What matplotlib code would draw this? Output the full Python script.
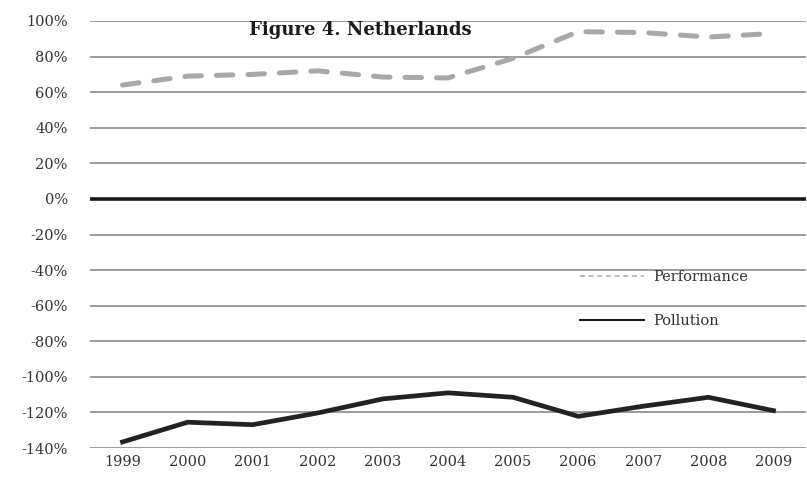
import matplotlib
matplotlib.use("Agg")
import matplotlib.pyplot as plt
from matplotlib.lines import Line2D
from matplotlib.ticker import FuncFormatter

years = ["1999", "2000", "2001", "2002", "2003", "2004", "2005", "2006", "2007", "2008", "2009"]
performance = [0.64, 0.69, 0.70, 0.72, 0.685, 0.68, 0.79, 0.94, 0.935, 0.91, 0.93]
pollution = [-1.366, -1.255, -1.269, -1.203, -1.124, -1.090, -1.115, -1.222, -1.165, -1.115, -1.190]
y_ticks = [1.0, 0.8, 0.6, 0.4, 0.2, 0.0, -0.2, -0.4, -0.6, -0.8, -1.0, -1.2, -1.4]

serif = ["DejaVu Serif"]
label_color = "#333333"

fig = plt.figure(figsize=(8.07, 4.91), dpi=100)
ax = fig.add_axes([90 / 807, 1 - 448 / 491, 716 / 807, 427 / 491])

x = list(range(len(years)))

for t in y_ticks:
    if t == 0:
        ax.axhline(t, color="#1a1a1a", lw=2.6, zorder=2)
    else:
        ax.axhline(t, color="#8a8a8a", lw=1.2, zorder=1)

ax.plot(x, performance, color="#a8a8a8", lw=3.6, ls=(0, (3.3, 3.0)),
        dash_capstyle="round", zorder=3)
ax.plot(x, pollution, color="#222222", lw=3.4, solid_joinstyle="round", zorder=3)

ax.set_xlim(-0.5, len(years) - 0.5)
ax.set_ylim(-1.4, 1.0)
ax.set_yticks(y_ticks)
ax.yaxis.set_major_formatter(FuncFormatter(lambda v, p: f"{round(v * 100):d}%"))
ax.set_xticks(x)
ax.set_xticklabels(years)

for s in ax.spines.values():
    s.set_visible(False)
ax.tick_params(axis="both", length=0, labelsize=10.5, labelcolor=label_color)
ax.tick_params(axis="y", pad=16)
ax.tick_params(axis="x", pad=5)
for lab in ax.get_xticklabels() + ax.get_yticklabels():
    lab.set_family(serif)

fig.text(360 / 807, 1 - 30 / 491, "Figure 4. Netherlands", ha="center", va="center",
         fontsize=13, fontweight="bold", family=serif, color="#1a1a1a")

handles = [
    Line2D([], [], color="#b0b0b0", lw=1.2, ls=(0, (3, 2.2))),
    Line2D([], [], color="#1a1a1a", lw=1.5),
]
leg = fig.legend(handles, ["Performance", "Pollution"], loc="upper left",
                 bbox_to_anchor=(567 / 807, 1 - 257 / 491), frameon=False,
                 handlelength=4.4, handletextpad=0.6, labelspacing=2.05,
                 prop={"family": serif, "size": 10.5})
for t in leg.get_texts():
    t.set_color(label_color)

fig.savefig("out.png", dpi=100, facecolor="white")
